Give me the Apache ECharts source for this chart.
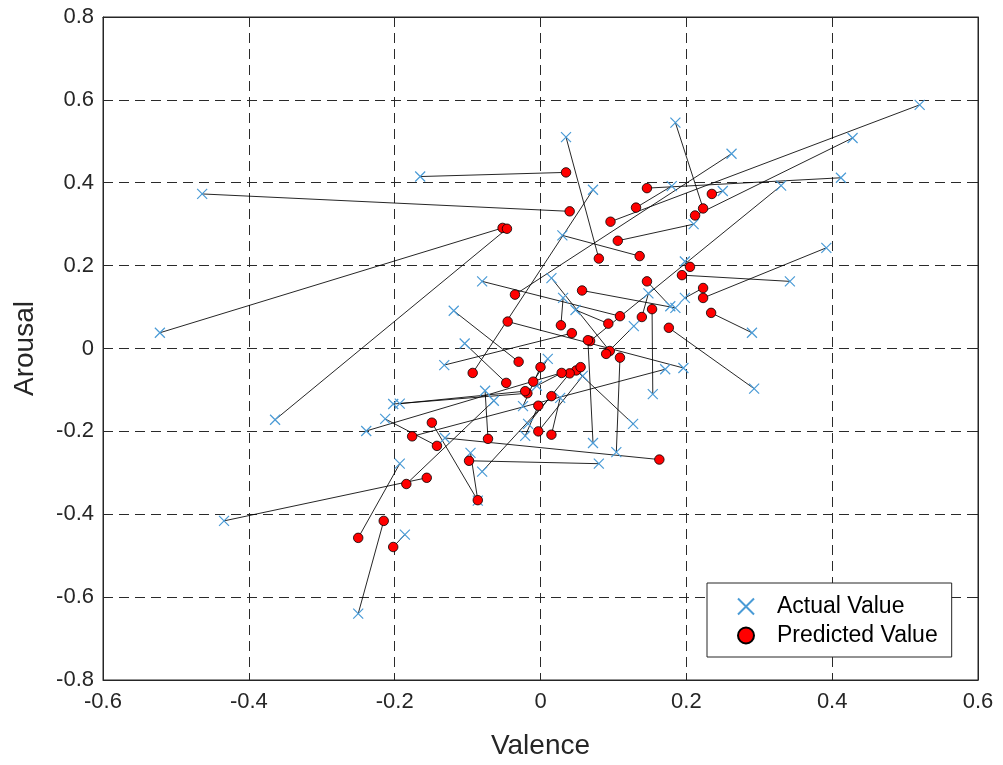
<!DOCTYPE html>
<html>
<head>
<meta charset="utf-8">
<script src="https://cdn.jsdelivr.net/npm/echarts@6/dist/echarts.min.js"></script>
<style>html,body{margin:0;padding:0;background:#fff}#c{width:1003px;height:765px}</style>
</head>
<body>
<div id="c"></div>
<script>
// Actual (x) and predicted (o) valence/arousal, paired by index
const actualValence = [-0.522,-0.364,-0.464,-0.165,0.035,0.185,0.412,0.262,0.520,0.428,0.330,0.250,0.180,0.072,0.210,0.030,0.392,0.198,0.342,0.015,-0.080,0.198,0.185,0.178,0.148,0.290,0.293,0.128,0.196,0.171,0.154,-0.119,-0.104,-0.132,0.031,0.048,0.010,0.127,0.104,0.072,0.080,-0.076,-0.064,-0.024,-0.017,-0.021,-0.005,-0.096,-0.080,0.027,0.058,-0.202,-0.193,-0.213,-0.239,-0.131,-0.086,-0.434,-0.250,-0.186,-0.193];
const actualArousal = [0.038,-0.172,0.373,0.415,0.510,0.545,0.412,0.470,0.588,0.508,0.393,0.380,0.392,0.383,0.300,0.273,0.243,0.210,0.162,0.170,0.162,0.122,0.098,0.102,0.133,0.038,-0.097,0.054,-0.047,-0.050,-0.110,0.091,0.012,-0.040,0.122,0.093,-0.025,-0.182,-0.250,-0.228,-0.278,-0.102,-0.126,-0.139,-0.182,-0.211,-0.090,-0.252,-0.297,-0.119,-0.066,-0.134,-0.133,-0.170,-0.199,-0.216,-0.367,-0.416,-0.640,-0.449,-0.278];
const predictedValence = [-0.052,-0.046,0.040,0.035,0.080,0.223,0.146,-0.035,0.096,0.212,0.068,0.235,0.131,-0.093,0.106,0.136,0.223,0.205,0.194,0.095,0.109,0.223,0.057,0.146,0.139,0.234,0.176,0.090,-0.045,-0.176,0.153,-0.030,-0.047,0.043,0.028,0.093,-0.010,0.049,0.109,0.065,-0.098,-0.072,-0.184,0.000,0.040,-0.003,0.029,-0.086,0.015,0.015,-0.003,-0.018,-0.021,-0.142,0.055,0.163,-0.149,-0.156,-0.215,-0.202,-0.250];
const predictedArousal = [0.291,0.289,0.331,0.425,0.217,0.338,0.387,0.130,0.306,0.321,0.018,0.373,0.340,-0.059,0.260,0.223,0.122,0.197,0.177,-0.006,0.078,0.146,0.140,0.162,0.076,0.086,0.050,-0.013,0.065,-0.212,0.095,-0.032,-0.083,0.037,0.056,0.060,-0.080,-0.053,-0.022,0.020,-0.271,-0.218,-0.327,-0.045,-0.060,-0.138,-0.059,-0.366,-0.115,-0.208,-0.200,-0.108,-0.103,-0.235,-0.045,-0.268,-0.179,-0.312,-0.416,-0.479,-0.457];
const xTicks = [-0.6,-0.4,-0.2,0,0.2,0.4,0.6];
const yTicks = [-0.8,-0.6,-0.4,-0.2,0,0.2,0.4,0.6,0.8];

const actualPts = actualValence.map((v,i)=>[v, actualArousal[i]]);
const predPts = predictedValence.map((v,i)=>[v, predictedArousal[i]]);
const links = actualPts.map((p,i)=>({coords:[p, predPts[i]]}));

const ink = '#262626';
const font = 'Liberation Sans, Arial, Helvetica';
const fmt = v => { const r = Math.round(v*10)/10; return r === 0 ? '0' : String(r); };
const split = {show:true, lineStyle:{color:'#2a2a2a', type:[10,6], width:1}};

const chart = echarts.init(document.getElementById('c'), null, {renderer:'canvas'});
chart.setOption({
  animation:false,
  backgroundColor:'#fff',
  grid:{left:103, right:25, top:17, bottom:85, show:true, borderColor:ink, borderWidth:1},
  xAxis:[{
    type:'value', min:xTicks[0], max:xTicks[xTicks.length-1], interval:0.2,
    name:'Valence', nameLocation:'middle', nameGap:52,
    nameTextStyle:{fontSize:28, color:ink, fontFamily:font},
    axisLine:{show:true, onZero:false, lineStyle:{color:ink}},
    axisTick:{show:true, inside:true, length:6, lineStyle:{color:ink}},
    axisLabel:{fontSize:22, color:ink, margin:11, formatter:fmt, fontFamily:font},
    splitLine:split
  },{
    type:'value', position:'top', min:-0.6, max:0.6, interval:0.2,
    axisLine:{show:true, onZero:false, lineStyle:{color:ink}},
    axisTick:{show:true, inside:true, length:6, lineStyle:{color:ink}},
    axisLabel:{show:false}, splitLine:{show:false}
  }],
  yAxis:[{
    type:'value', min:yTicks[0], max:yTicks[yTicks.length-1], interval:0.2,
    name:'Arousal', nameLocation:'middle', nameGap:64,
    nameTextStyle:{fontSize:28, color:ink, fontFamily:font},
    axisLine:{show:true, onZero:false, lineStyle:{color:ink}},
    axisTick:{show:true, inside:true, length:6, lineStyle:{color:ink}},
    axisLabel:{fontSize:22, color:ink, margin:9, formatter:fmt, fontFamily:font},
    splitLine:split
  },{
    type:'value', position:'right', min:-0.8, max:0.8, interval:0.2,
    axisLine:{show:true, onZero:false, lineStyle:{color:ink}},
    axisTick:{show:true, inside:true, length:6, lineStyle:{color:ink}},
    axisLabel:{show:false}, splitLine:{show:false}
  }],
  legend:{
    orient:'vertical', left:707, top:583,
    padding:[12,14,10,30], itemGap:6, itemWidth:16, itemHeight:16,
    backgroundColor:'#fff', borderColor:ink, borderWidth:1,
    textStyle:{fontSize:23, color:'#000', fontFamily:font, padding:[0,0,0,18]},
    data:['Actual Value','Predicted Value']
  },
  series:[
    {type:'lines', coordinateSystem:'cartesian2d', silent:true, z:1,
     lineStyle:{color:'#000', width:1, opacity:0.85}, data:links},
    {name:'Actual Value', type:'scatter', z:3, data:actualPts,
     symbol:'path://M0,0L10,10M10,0L0,10', symbolSize:10,
     itemStyle:{color:'rgba(0,0,0,0)', borderColor:'#4a9bd6', borderWidth:1.2, opacity:1}},
    {name:'Predicted Value', type:'scatter', z:4, data:predPts,
     symbol:'circle', symbolSize:9.5,
     itemStyle:{color:'#ff0000', borderColor:'#000', borderWidth:0.8, opacity:1}}
  ]
});
</script>
</body>
</html>
